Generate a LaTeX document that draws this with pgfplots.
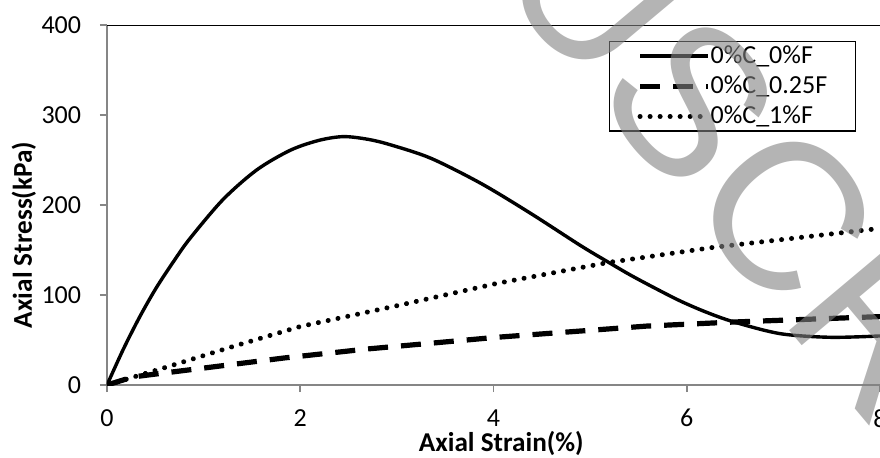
\documentclass[border=0pt]{standalone}
\usepackage{fontspec}
\setmainfont{Carlito}
\newfontfamily\wmfont{Liberation Sans}
\usepackage{pgfplots}
\pgfplotsset{compat=1.18}
\definecolor{axgray}{RGB}{134,134,134}
\definecolor{wmgray}{RGB}{130,130,130}
\begin{document}
\begin{tikzpicture}[x=1pt,y=1pt]
\path[use as bounding box, clip] (0,0) rectangle (440,228.5);
\begin{axis}[
  at={(53.5pt,36pt)}, anchor=south west,
  scale only axis, width=386.5pt, height=180pt,
  xmin=0, xmax=8, ymin=0, ymax=400,
  axis x line*=bottom, axis y line*=left,
  axis line style={draw=axgray, line width=1pt},
  xtick={0,2,4,6,8}, ytick={0,100,200,300,400},
  tick align=outside, major tick length=3.5pt,
  tick style={draw=axgray, line width=0.8pt},
  /pgf/number format/assume math mode=true,
  ticklabel style={font=\fontsize{13}{15}\selectfont, inner sep=0pt},
  xticklabel style={anchor=north, yshift=-8.5pt},
  yticklabel style={anchor=east, xshift=-9.25pt},
  xlabel={Axial Strain(\%)},
  xlabel style={font=\bfseries\fontsize{13.6}{15}\selectfont, at={(axis description cs:0.51,0)}, anchor=north, yshift=-23pt, inner sep=0pt},
  ylabel={Axial Stress(kPa)},
  ylabel style={font=\bfseries\fontsize{13.6}{15}\selectfont, at={([xshift=-37.5pt]axis description cs:0,0.417)}, anchor=base, inner sep=0pt},
  legend style={at={(rel axis cs:0.969,0.956)}, anchor=north east, draw=black, line width=0.75pt,
    inner xsep=14pt, inner ysep=2pt, row sep=4.75pt, font=\fontsize{13}{15}\selectfont,
    nodes={inner sep=0pt}, /tikz/column 2/.style={column sep=4.5pt}},
  legend cell align=left,
  legend image code/.code={\draw[#1] (0pt,0pt) -- (34pt,0pt);},
]
\draw[black, line width=0.7pt] (rel axis cs:0,1) -- (rel axis cs:1,1);
\addplot[black, line width=1.7pt, smooth] coordinates {
(0,0) (0.17,40) (0.34,76) (0.51,108) (0.70,139) (0.86,163) (1.20,206) (1.55,239) (1.90,261)
(2.20,272) (2.45,276) (2.70,273) (2.93,267) (3.35,252) (3.87,224) (4.38,191) (4.90,155) (5.18,137)
(5.42,122) (5.70,106) (5.94,93) (6.20,81) (6.49,70) (6.97,57) (7.49,53) (8.00,54.5)};
\addlegendentry{0\%C\_0\%F}
\addplot[black, line width=2.6pt, dash pattern=on 10pt off 6.5pt] coordinates {
(0,0) (0.27,9) (1.83,30) (2.69,40) (4.03,53) (5.59,65.5) (6.49,70) (8,76)};
\addlegendentry{0\%C\_0.25F}
\addplot[black, line width=2.5pt, line cap=round, dash pattern=on 0.01pt off 5pt] coordinates {
(0,0) (0.62,20) (1.31,43) (2,65) (3.04,89) (4.04,113) (5.18,136) (6.28,153) (8,174)};
\addlegendentry{0\%C\_1\%F}
\end{axis}
\node[rotate=-50, anchor=base east, text=wmgray, opacity=0.6, font=\wmfont\fontsize{105}{105}\selectfont, inner sep=0pt] at (340.4,128.1) {MANUS};
\node[rotate=-50, anchor=base west, text=wmgray, opacity=0.6, font=\wmfont\fontsize{105}{105}\selectfont, inner sep=0pt] at (340.4,128.1) {CRIPT};
\end{tikzpicture}
\end{document}
